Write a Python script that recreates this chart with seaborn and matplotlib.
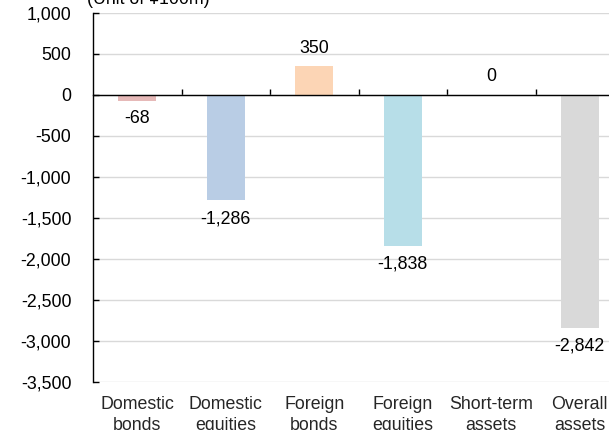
import matplotlib
matplotlib.use("Agg")
import matplotlib.pyplot as plt
import seaborn as sns
import pandas as pd

# Change in holdings by asset class (unit: 100 million yen)
categories = ["Domestic\nbonds", "Domestic\nequities", "Foreign\nbonds",
              "Foreign\nequities", "Short-term\nassets", "Overall\nassets"]
values = [-68, -1286, 350, -1838, 0, -2842]
bar_colors = ["#E6B9B8", "#B9CDE5", "#FCD5B5", "#B7DEE8", "#CCC1DA", "#D9D9D9"]
y_ticks = [1000, 500, 0, -500, -1000, -1500, -2000, -2500, -3000, -3500]
unit_label = "(Unit of ¥100m)"

sns.set_theme(style="white")
plt.rcParams["font.family"] = ["Liberation Sans", "DejaVu Sans"]
FS = 12.8

df = pd.DataFrame({"category": categories, "value": values})

fig = plt.figure(figsize=(6.09, 4.30), dpi=100)
ax = fig.add_axes([0.1527, 0.1116, 0.872, 0.8582])

sns.barplot(data=df, x="category", y="value", hue="category",
            palette=bar_colors, width=0.43, legend=False, ax=ax,
            saturation=1, edgecolor="none", linewidth=0)

ax.set_xlim(-0.5, 5.5)
ax.set_ylim(-3500, 1000)
ax.set_xlabel("")
ax.set_ylabel("")

# horizontal gridlines
ax.set_yticks(y_ticks)
ax.set_yticklabels([f"{v:,}" for v in y_ticks], fontsize=FS, color="#000000")
ax.yaxis.grid(True, color="#D9D9D9", linewidth=1.0)
ax.set_axisbelow(True)
ax.tick_params(axis="y", direction="in", length=4, width=1, color="#000000",
               pad=15.6, left=True)

# category axis crossing at zero, with boundary ticks pointing up
ax.spines["bottom"].set_position(("data", 0))
ax.spines["bottom"].set_color("#000000")
ax.spines["bottom"].set_linewidth(1.0)
ax.spines["bottom"].set_zorder(3)
ax.set_xticks([i + 0.5 for i in range(len(categories))])
ax.set_xticklabels([])
ax.tick_params(axis="x", direction="in", length=4, width=1, color="#000000",
               bottom=True)

ax.spines["left"].set_color("#000000")
ax.spines["left"].set_linewidth(1.0)
ax.spines["top"].set_visible(False)
ax.spines["right"].set_visible(False)

# category names along the bottom of the plot area
sec = ax.secondary_xaxis(0)
sec.set_xticks(range(len(categories)))
sec.set_xticklabels(categories, fontsize=FS, linespacing=1.35)
sec.tick_params(axis="x", length=0, pad=10)
sec.spines["bottom"].set_visible(False)

# value labels
for i, v in enumerate(values):
    off = 13 if v >= 0 else -13
    ax.annotate(f"{v:,}", xy=(i, v), xytext=(0, off), textcoords="offset points",
                ha="center", va="center", fontsize=FS, color="#000000")

fig.text(87 / 609, 1 - 4 / 430, unit_label, fontsize=FS, ha="left",
         va="baseline", color="#000000")

fig.savefig("out.png", dpi=100)
